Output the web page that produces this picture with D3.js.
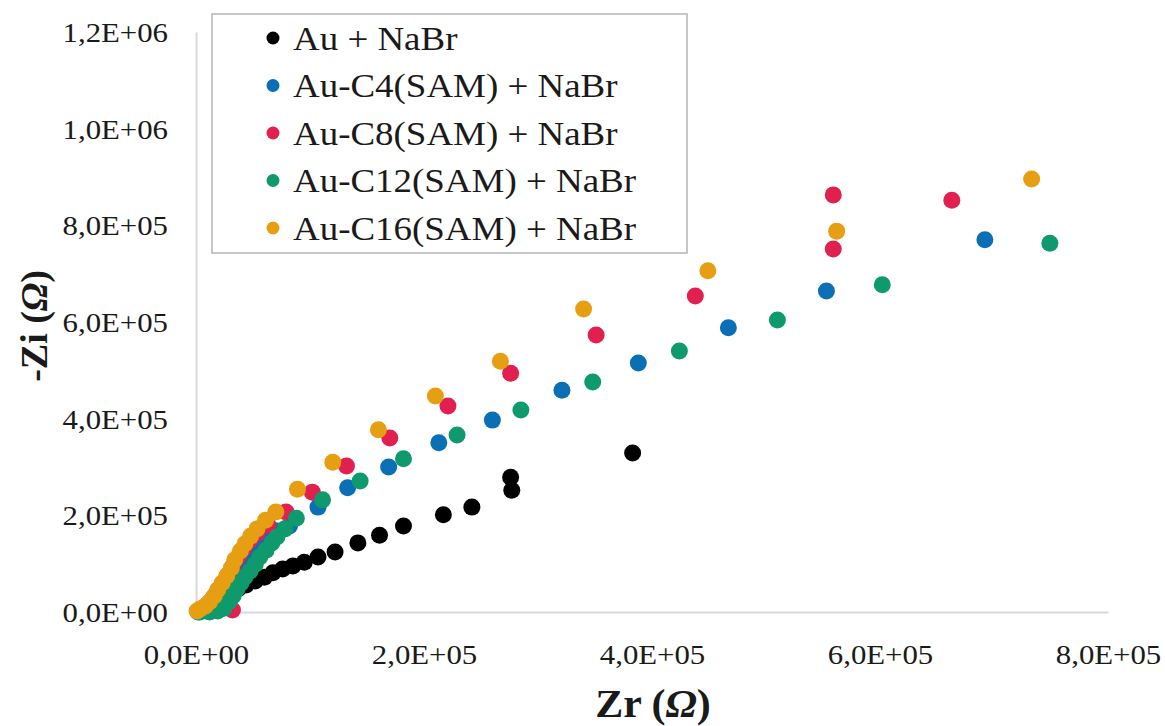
<!DOCTYPE html>
<html>
<head>
<meta charset="utf-8">
<script src="https://cdn.jsdelivr.net/npm/d3@7"></script>
<style>
  body { margin: 0; background: #fff; }
  text { font-family: "Liberation Serif", "Times New Roman", serif; fill: #1a1a1a; }
</style>
</head>
<body>
<script>
// series names (legend order)
const seriesNames = ["Au + NaBr", "Au-C4(SAM) + NaBr", "Au-C8(SAM) + NaBr", "Au-C12(SAM) + NaBr", "Au-C16(SAM) + NaBr"];
const seriesColors = ["#000000", "#0a6fb5", "#e2204f", "#0f9a6e", "#e69f12"];

// Zr, -Zi pairs in ohm
const auNaBr = [
  [3.5e3, 2e3], [1.05e4, 8e3], [1.75e4, 1.65e4], [2.4e4, 2.7e4], [3.0e4, 3.7e4], [3.7e4, 4.8e4],
  [4.4e4, 5.6e4], [5.2e4, 6.4e4], [6.0e4, 7.2e4], [6.75e4, 8.1e4], [7.6e4, 8.9e4], [8.5e4, 9.5e4],
  [9.5e4, 1.03e5], [1.07e5, 1.14e5], [1.22e5, 1.24e5], [1.42e5, 1.43e5], [1.61e5, 1.59e5],
  [1.82e5, 1.78e5], [2.17e5, 2.01e5], [2.42e5, 2.17e5], [2.77e5, 2.52e5], [2.76e5, 2.79e5],
  [3.83e5, 3.29e5]
];
const auC4 = [
  [1.8e3, 0], [8.8e3, 2e3], [1.5e4, 6e3], [2.0e4, 1.45e4], [2.45e4, 2.7e4], [2.8e4, 3.9e4],
  [3.15e4, 5.4e4], [3.5e4, 6.8e4], [3.85e4, 8.3e4], [4.3e4, 9.7e4], [4.7e4, 1.12e5], [5.25e4, 1.26e5],
  [5.8e4, 1.41e5], [6.3e4, 1.55e5], [7.0e4, 1.68e5], [8.2e4, 1.78e5], [1.07e5, 2.17e5],
  [1.33e5, 2.57e5], [1.69e5, 3.00e5], [2.13e5, 3.50e5], [2.60e5, 3.97e5], [3.21e5, 4.59e5],
  [3.88e5, 5.15e5], [4.67e5, 5.88e5], [5.53e5, 6.64e5], [6.92e5, 7.70e5]
];
const auC8 = [
  [3.2e4, 4e3], [2.6e3, 2e3], [6.1e3, 8e3], [1.05e4, 1.65e4], [1.5e4, 2.9e4], [1.9e4, 4.3e4],
  [2.35e4, 6.0e4], [2.8e4, 7.65e4], [3.25e4, 9.5e4], [3.7e4, 1.14e5], [4.2e4, 1.32e5],
  [4.75e4, 1.49e5], [5.35e4, 1.63e5], [6.3e4, 1.80e5], [7.9e4, 2.07e5], [1.02e5, 2.48e5],
  [1.32e5, 3.02e5], [1.70e5, 3.60e5], [2.21e5, 4.26e5], [2.76e5, 4.94e5], [3.51e5, 5.73e5],
  [4.38e5, 6.54e5], [5.59e5, 7.51e5], [5.59e5, 8.63e5], [6.63e5, 8.52e5]
];
const auC12 = [
  [3.5e3, 0], [1.2e4, 0], [1.9e4, 2e3], [2.45e4, 8e3], [2.9e4, 2.1e4], [3.25e4, 3.3e4],
  [3.6e4, 4.75e4], [3.95e4, 6.0e4], [4.3e4, 7.25e4], [4.75e4, 8.5e4], [5.2e4, 9.9e4],
  [5.6e4, 1.14e5], [6.15e4, 1.28e5], [6.65e4, 1.43e5], [7.1e4, 1.55e5], [7.8e4, 1.72e5],
  [8.8e4, 1.94e5], [1.11e5, 2.32e5], [1.44e5, 2.71e5], [1.82e5, 3.17e5], [2.29e5, 3.66e5],
  [2.85e5, 4.18e5], [3.48e5, 4.76e5], [4.24e5, 5.40e5], [5.10e5, 6.04e5], [6.02e5, 6.77e5],
  [7.49e5, 7.63e5]
];
const auC16 = [
  [9e2, 2e3], [3.5e3, 6e3], [8e3, 1.2e4], [1.2e4, 2.1e4], [1.6e4, 3.3e4], [1.9e4, 4.6e4],
  [2.3e4, 6.0e4], [2.7e4, 7.45e4], [3.1e4, 9.1e4], [3.4e4, 1.08e5], [3.9e4, 1.26e5],
  [4.3e4, 1.41e5], [4.8e4, 1.57e5], [5.35e4, 1.72e5], [6.1e4, 1.90e5], [7.0e4, 2.07e5],
  [8.9e4, 2.54e5], [1.20e5, 3.10e5], [1.60e5, 3.77e5], [2.10e5, 4.47e5], [2.67e5, 5.19e5],
  [3.40e5, 6.27e5], [4.49e5, 7.06e5], [5.62e5, 7.88e5], [7.33e5, 8.96e5]
];
const allSeries = [auNaBr, auC4, auC8, auC12, auC16];

const xTicks = [0, 2e5, 4e5, 6e5, 8e5];
const yTicks = [0, 2e5, 4e5, 6e5, 8e5, 1e6, 1.2e6];

const width = 1165;
const height = 726;
const stretch = 1.1; // text in the picture is a bit wider than tall

const svg = d3.select("body").append("svg").attr("width", width).attr("height", height);

const xScale = d3.scaleLinear().domain([0, 8e5]).range([196, 1108]);
const yScale = d3.scaleLinear().domain([0, 1.2e6]).range([612, 32]);

// 1,2E+06 style labels
const sci = v => {
  if (v === 0) return "0,0E+00";
  const e = Math.floor(Math.log10(v));
  return (v / Math.pow(10, e)).toFixed(1).replace(".", ",") + "E+" + String(e).padStart(2, "0");
};

const axisx = d3.axisBottom(xScale).tickValues(xTicks).tickSize(0).tickPadding(0).tickFormat(sci);
const axisy = d3.axisLeft(yScale).tickValues(yTicks).tickSize(0).tickPadding(0).tickFormat(sci);

const gx = svg.append("g").attr("transform", "translate(0,612)").call(axisx);
const gy = svg.append("g").attr("transform", "translate(196,0)").call(axisy);

[gx, gy].forEach(g => {
  g.select(".domain").attr("stroke", "#d9d9d9").attr("stroke-width", 2);
  g.selectAll("text").style("font-family", '"Liberation Serif", serif').style("font-size", "28px").attr("fill", "#1a1a1a");
});
gx.selectAll("text").attr("y", 0).attr("dy", 0)
  .attr("transform", `translate(0,52) scale(${stretch},1)`);
gy.selectAll("text").attr("x", 0).attr("dy", "0.34em")
  .attr("transform", `translate(-28,0) scale(${stretch},1)`);

// points
const plot = svg.append("g");
allSeries.forEach((pts, i) => {
  plot.append("g").selectAll("circle")
    .data(pts)
    .enter()
    .append("circle")
    .attr("cx", d => xScale(d[0]))
    .attr("cy", d => yScale(d[1]))
    .attr("r", 8.5)
    .attr("fill", seriesColors[i]);
});

// legend
const legend = svg.append("g");
legend.append("rect")
  .attr("x", 212).attr("y", 14).attr("width", 475).attr("height", 239)
  .attr("fill", "#fff").attr("stroke", "#b5b5b5").attr("stroke-width", 1.5);
const rows = legend.selectAll(".row")
  .data(seriesNames)
  .enter()
  .append("g")
  .attr("class", "row")
  .attr("transform", (d, i) => `translate(273,${38 + i * 47.5})`);
rows.append("circle").attr("r", 6.5).attr("fill", (d, i) => seriesColors[i]);
rows.append("text")
  .attr("transform", `translate(20,11.5) scale(1.12,1)`)
  .style("font-size", "33px")
  .text(d => d);

// axis titles
svg.append("text")
  .attr("transform", `translate(653,717) scale(1.05,1)`)
  .attr("text-anchor", "middle")
  .style("font-size", "40px").style("font-weight", "bold")
  .html('Zr (<tspan font-style="italic">Ω</tspan>)');

svg.append("text")
  .attr("transform", "translate(47,326) rotate(-90)")
  .attr("text-anchor", "middle")
  .style("font-size", "38px").style("font-weight", "bold")
  .html('-Zi (<tspan font-style="italic">Ω</tspan>)');
</script>
</body>
</html>
